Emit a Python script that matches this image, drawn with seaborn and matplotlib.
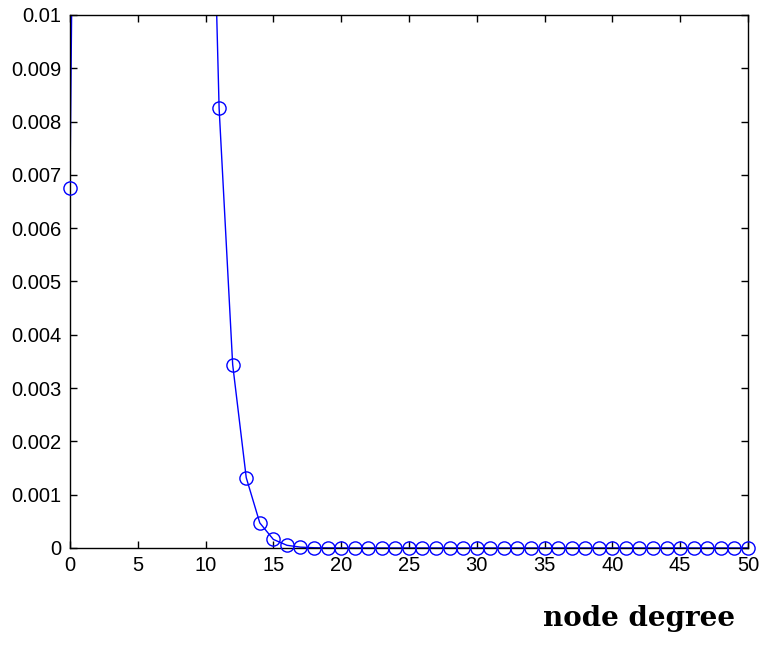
import numpy as np
import matplotlib
matplotlib.use('Agg')
import matplotlib.pyplot as plt
import seaborn as sns

# node degree and probability (values above 0.01 are clipped)
degree = list(range(51))
prob = [0.00675, 0.0337, 0.0842, 0.1404, 0.1755, 0.1755, 0.1462, 0.1044, 0.0653, 0.0363,
        0.0181, 0.00825, 0.00344, 0.00132, 0.00047, 0.00016, 0.00005, 0.000015, 0.000004, 0.000001,
        0.0, 0.0, 0.0, 0.0, 0.0, 0.0, 0.0, 0.0, 0.0, 0.0,
        0.0, 0.0, 0.0, 0.0, 0.0, 0.0, 0.0, 0.0, 0.0, 0.0,
        0.0, 0.0, 0.0, 0.0, 0.0, 0.0, 0.0, 0.0, 0.0, 0.0, 0.0]

sns.set_style('white')
plt.rcParams['font.family'] = ['Liberation Sans', 'DejaVu Sans']

fig = plt.figure(figsize=(7.63, 6.5), dpi=100)
ax = fig.add_axes([0.0917, 0.157, 0.8885, 0.820])

x = np.array(degree)
y = np.array(prob)
sns.lineplot(x=x, y=y, ax=ax, color='blue', linewidth=1)
vis = y <= 0.01
ax.plot(x[vis], y[vis], linestyle='none', marker='o', markersize=9.5,
        markerfacecolor='none', markeredgecolor='blue', markeredgewidth=1, clip_on=False, zorder=5)

ax.set_xlim(0, 50)
ax.set_ylim(0, 0.01)
ax.set_xticks(range(0, 51, 5))
ax.set_yticks(np.arange(0, 0.0101, 0.001))
ax.set_yticklabels(['0', '0.001', '0.002', '0.003', '0.004', '0.005', '0.006',
                    '0.007', '0.008', '0.009', '0.01'])
ax.tick_params(direction='in', length=5, width=1, top=True, right=True,
               bottom=True, left=True, labelsize=14.5, colors='black', pad=6)
for s in ax.spines.values():
    s.set_color('black')
    s.set_linewidth(1)

fig.text(0.8375, 0.049, 'node degree', ha='center', va='center', fontsize=20,
         fontweight='bold', color='black', family=['DejaVu Serif'])

plt.savefig('out.png', dpi=100)
